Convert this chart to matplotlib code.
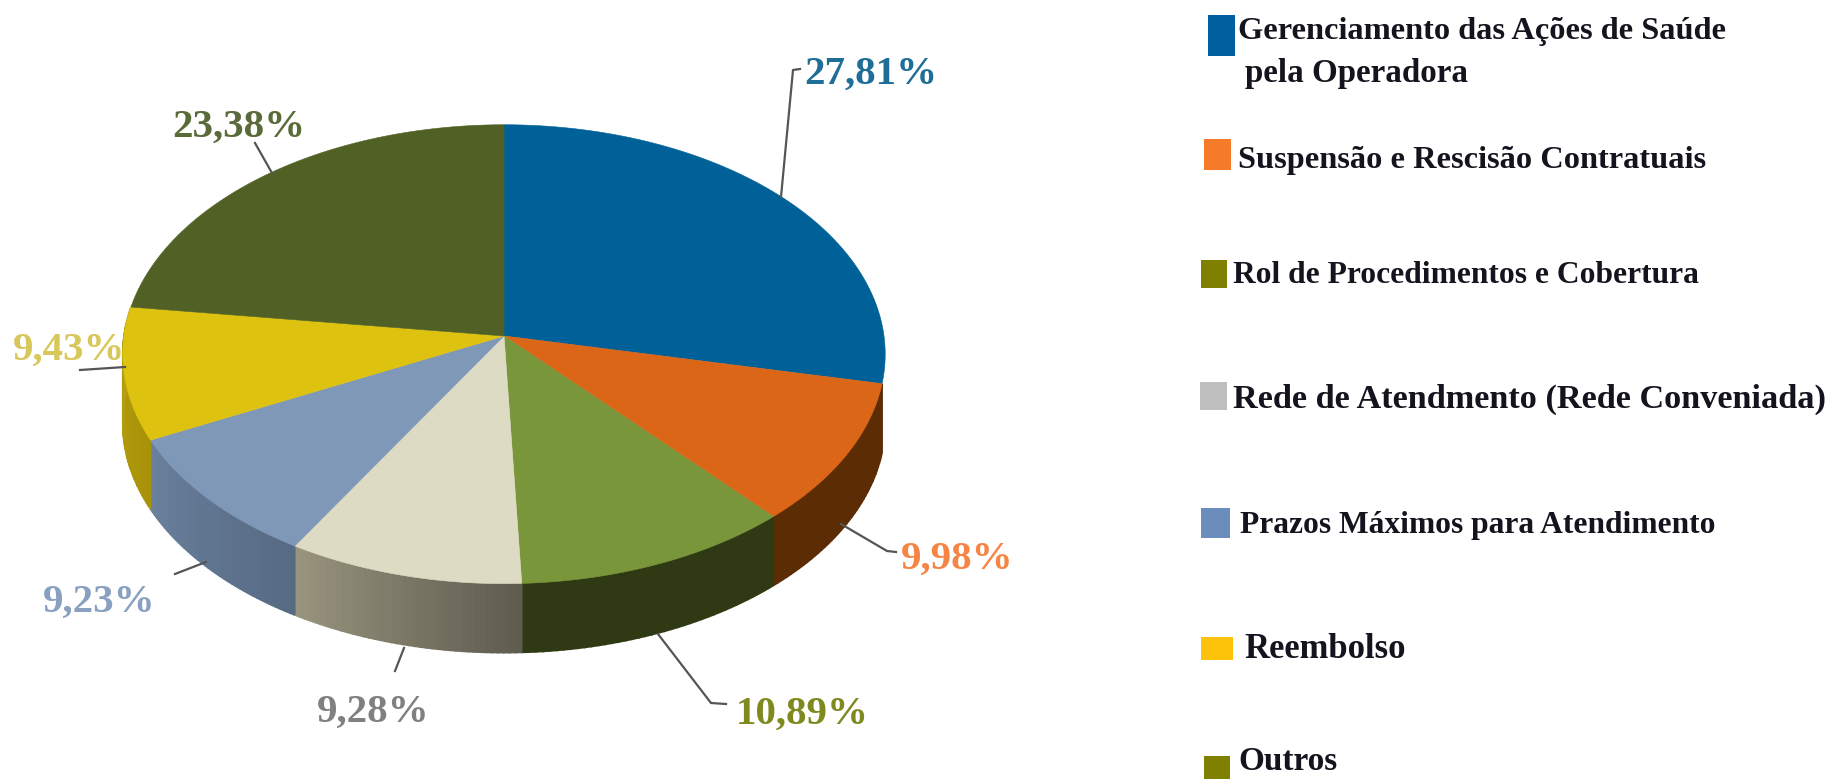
import numpy as np
import matplotlib
matplotlib.use('Agg')
import matplotlib.pyplot as plt
from matplotlib.colors import to_rgb

# data
categorias = ['Gerenciamento das Ações de Saúde\n pela Operadora',
              'Suspensão e Rescisão Contratuais',
              'Rol de Procedimentos e Cobertura',
              'Rede de Atendmento (Rede Conveniada)',
              'Prazos Máximos para Atendimento',
              'Reembolso',
              'Outros']
valores = [27.81, 9.98, 10.89, 9.28, 9.23, 9.43, 23.38]
rotulos = ['27,81%', '9,98%', '10,89%', '9,28%', '9,23%', '9,43%', '23,38%']

# colours
cor_topo = ['#006199', '#DB6617', '#7A963B', '#DEDBC4', '#7F98B8', '#DEC210', '#516126']
cor_lado_ini = ['#004A75', '#5C2C05', '#2F3A14', '#5F5C50', '#566A84', '#A89208', '#3A4618']
cor_lado_fim = ['#004A75', '#5C2C05', '#2F3A14', '#98947E', '#6A809C', '#B8A010', '#3A4618']
cor_rotulo = ['#1F6E97', '#F58545', '#7F8A1E', '#808080', '#8AA0C0', '#D8C75A', '#5A6B3A']
cor_legenda = ['#005F9E', '#F57B28', '#7F7F00', '#BFBFBF', '#6A8DBD', '#FDC30A', '#7F7F00']

# layout, in pixels of the 1837x779 picture
W, H = 1837, 779
APEX_X, APEX_Y = 504, 336
ESCALA_X, ESCALA_Y = 380, 228
K = 0.0793
DESVIO = 0.04
ALTURA = 69

rotulo_xy = [(871, 74), (957, 559), (802, 714), (373, 712), (99, 602), (69, 350), (239, 127)]
guias = [[(781, 197), (793, 70), (800, 69)],
         [(841, 524), (887, 551), (896, 552)],
         [(658, 634), (711, 703), (726, 704)],
         [(404, 648), (395, 671)],
         [(206, 562), (175, 574)],
         [(125, 367), (80, 370)],
         [(272, 173), (255, 143)]]
caixas = [(1208, 15, 27, 41), (1204, 139, 27, 31), (1201, 260, 26, 28), (1200, 382, 27, 28),
          (1201, 508, 29, 30), (1201, 637, 32, 23), (1204, 756, 26, 23)]
texto_xy = [(1238, 31), (1238, 160), (1233, 275), (1233, 399), (1240, 525), (1244, 650), (1238, 761)]
tamanho = [23.3, 23.3, 22.7, 24.7, 22.7, 24.9, 24]


def projeta(t):
    # circle seen in perspective, t runs clockwise from the top
    t = t + DESVIO * np.sin(t / 2)
    u, v = np.sin(t), np.cos(t)
    d = 1 + K * v
    return APEX_X + ESCALA_X * u / d, APEX_Y - ESCALA_Y * v / d


fig = plt.figure(figsize=(W / 100, H / 100), dpi=100)
ax = fig.add_axes([0, 0, 1, 1])
ax.set_xlim(0, W)
ax.set_ylim(H, 0)
ax.axis('off')

limites = np.cumsum([0] + valores) / sum(valores) * 2 * np.pi

# side walls first, the top faces cover whatever is behind
# first and last slice sit at the back so they get no wall
for i in range(1, len(valores) - 1):
    passos = np.linspace(limites[i], limites[i + 1], 41)
    c0, c1 = np.array(to_rgb(cor_lado_ini[i])), np.array(to_rgb(cor_lado_fim[i]))
    for j in range(40):
        xa, ya = projeta(passos[j:j + 2])
        f = j / 39
        ax.fill([xa[0], xa[1], xa[1], xa[0]],
                [ya[0], ya[1], ya[1] + ALTURA, ya[0] + ALTURA],
                color=c0 + (c1 - c0) * f, lw=1.2, zorder=1)

for i in range(len(valores)):
    xa, ya = projeta(np.linspace(limites[i], limites[i + 1], 120))
    ax.fill(np.r_[APEX_X, xa], np.r_[APEX_Y, ya], color=cor_topo[i], lw=0.4, zorder=2)

serif = 'Liberation Serif'
for i in range(len(rotulos)):
    xs, ys = zip(*guias[i])
    ax.plot(xs, ys, color='#555555', lw=1.6, zorder=3)
    ax.text(rotulo_xy[i][0], rotulo_xy[i][1], rotulos[i], color=cor_rotulo[i], family=serif,
            weight='bold', fontsize=29.5, ha='center', va='center', zorder=4)

for i in range(len(categorias)):
    x, y, w, h = caixas[i]
    ax.add_patch(plt.Rectangle((x, y), w, h, color=cor_legenda[i], lw=0))
    linhas = categorias[i].split('\n')
    ax.text(texto_xy[i][0], texto_xy[i][1], linhas[0], color='#14141E', family=serif,
            weight='bold', fontsize=tamanho[i], ha='left', va='center')
    if len(linhas) > 1:
        ax.text(texto_xy[i][0] + 7, texto_xy[i][1] + 42, linhas[1].strip(), color='#14141E',
                family=serif, weight='bold', fontsize=23.8, ha='left', va='center')

fig.savefig('out.png', dpi=100, facecolor='white')
